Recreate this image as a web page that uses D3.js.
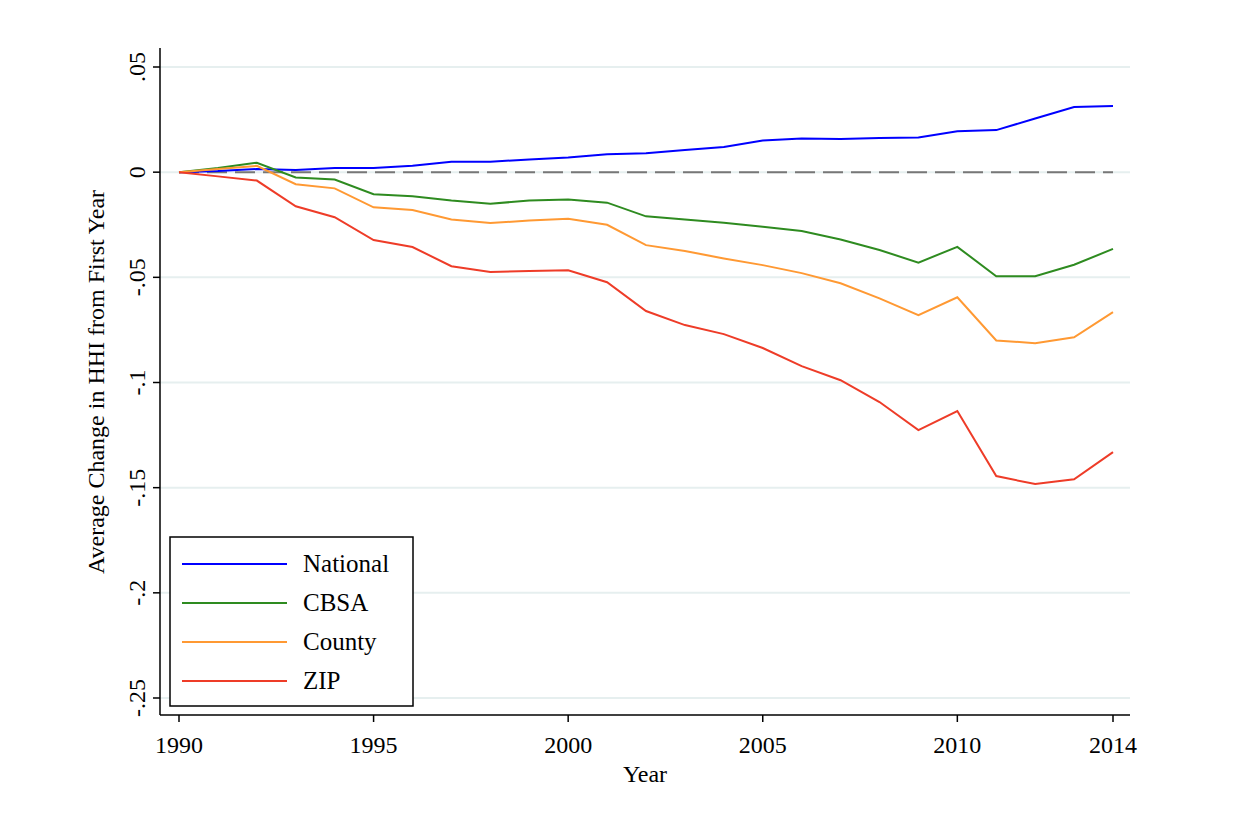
<!DOCTYPE html>
<html><head><meta charset="utf-8">
<script src="https://cdn.jsdelivr.net/npm/d3@7"></script>
<style>body{margin:0;background:#fff}svg{font-family:"Liberation Serif","Times New Roman",serif}</style>
</head><body><svg width="1249" height="826"></svg>
<script>
const years = d3.range(1990, 2015);
const national = [0,0.0005,0.0015,0.001,0.002,0.002,0.003,0.005,0.005,0.006,0.007,0.0085,0.009,0.0105,0.012,0.015,0.016,0.0158,0.0163,0.0165,0.0195,0.02,0.0255,0.031,0.0315];
const cbsa = [0,0.002,0.0045,-0.0025,-0.0035,-0.0105,-0.0115,-0.0135,-0.015,-0.0135,-0.013,-0.0145,-0.021,-0.0225,-0.024,-0.026,-0.028,-0.032,-0.037,-0.043,-0.0355,-0.0495,-0.0495,-0.044,-0.0365];
const county = [0,0.0015,0.003,-0.0057,-0.0077,-0.0167,-0.018,-0.0225,-0.0242,-0.023,-0.0222,-0.025,-0.0347,-0.0375,-0.041,-0.0442,-0.048,-0.0528,-0.06,-0.068,-0.0595,-0.08,-0.0813,-0.0785,-0.0665];
const zip = [0,-0.002,-0.004,-0.0162,-0.0214,-0.0323,-0.0356,-0.0447,-0.0475,-0.047,-0.0466,-0.0523,-0.066,-0.0727,-0.077,-0.0836,-0.0922,-0.0989,-0.1093,-0.1226,-0.1136,-0.1445,-0.1483,-0.146,-0.1331];
const seriesNames = ["National","CBSA","County","ZIP"];
const seriesColors = ["#0000ff","#2e8b20","#ff9933","#ee3c28"];
const seriesData = [national, cbsa, county, zip];
const xTicks = [1990,1995,2000,2005,2010,2014];
const yTicks = [0.05,0,-0.05,-0.1,-0.15,-0.2,-0.25];
const yLabels = [".05","0","-.05","-.1","-.15","-.2","-.25"];

const svg = d3.select("svg");
const x = d3.scaleLinear().domain([1990,2014]).range([179,1113]);
const y = d3.scaleLinear().domain([0.05,-0.25]).range([67,698]);
const L = 160, R = 1130, T = 48, B = 715;

// gridlines
svg.selectAll(".grid").data(yTicks).join("line")
  .attr("x1", L).attr("x2", R).attr("y1", d => y(d)).attr("y2", d => y(d))
  .attr("stroke", "#e6efef").attr("stroke-width", 2);

// axes
svg.append("line").attr("x1",L).attr("x2",L).attr("y1",T).attr("y2",B).attr("stroke","#000").attr("stroke-width",1.5);
svg.append("line").attr("x1",L).attr("x2",R).attr("y1",B).attr("y2",B).attr("stroke","#000").attr("stroke-width",1.5);

const yt = svg.selectAll(".yt").data(yTicks).join("g").attr("transform", d => `translate(${L},${y(d)})`);
yt.append("line").attr("x1",-7).attr("x2",0).attr("stroke","#000").attr("stroke-width",1.5);
yt.append("text").attr("transform","translate(-15,0) rotate(-90)").attr("text-anchor","middle")
  .attr("font-size",24).text((d,i) => yLabels[i]);

const xt = svg.selectAll(".xt").data(xTicks).join("g").attr("transform", d => `translate(${x(d)},${B})`);
xt.append("line").attr("y1",0).attr("y2",7).attr("stroke","#000").attr("stroke-width",1.5);
xt.append("text").attr("y",38).attr("text-anchor","middle").attr("font-size",24).text(d => d);

svg.append("text").attr("x",645).attr("y",782).attr("text-anchor","middle").attr("font-size",24).text("Year");
svg.append("text").attr("transform","translate(104,382) rotate(-90)").attr("text-anchor","middle")
  .attr("font-size",24).text("Average Change in HHI from First Year");

// zero reference line
svg.append("line").attr("x1",x(1990)).attr("x2",x(2014)).attr("y1",y(0)).attr("y2",y(0))
  .attr("stroke","#777").attr("stroke-width",2).attr("stroke-dasharray","20,8");

const line = d3.line().x((d,i) => x(years[i])).y(d => y(d));
seriesData.forEach((s, i) => {
  svg.append("path").attr("d", line(s)).attr("fill","none")
    .attr("stroke", seriesColors[i]).attr("stroke-width", 2);
});

// legend
svg.append("rect").attr("x",170).attr("y",537).attr("width",243).attr("height",169)
  .attr("fill","#fff").attr("stroke","#000").attr("stroke-width",1.5);
seriesNames.forEach((n, i) => {
  const yy = 564 + i * 39;
  svg.append("line").attr("x1",182).attr("x2",287).attr("y1",yy).attr("y2",yy)
    .attr("stroke", seriesColors[i]).attr("stroke-width",2);
  svg.append("text").attr("x",303).attr("y",yy+8).attr("font-size",25).text(n);
});
</script></body></html>
